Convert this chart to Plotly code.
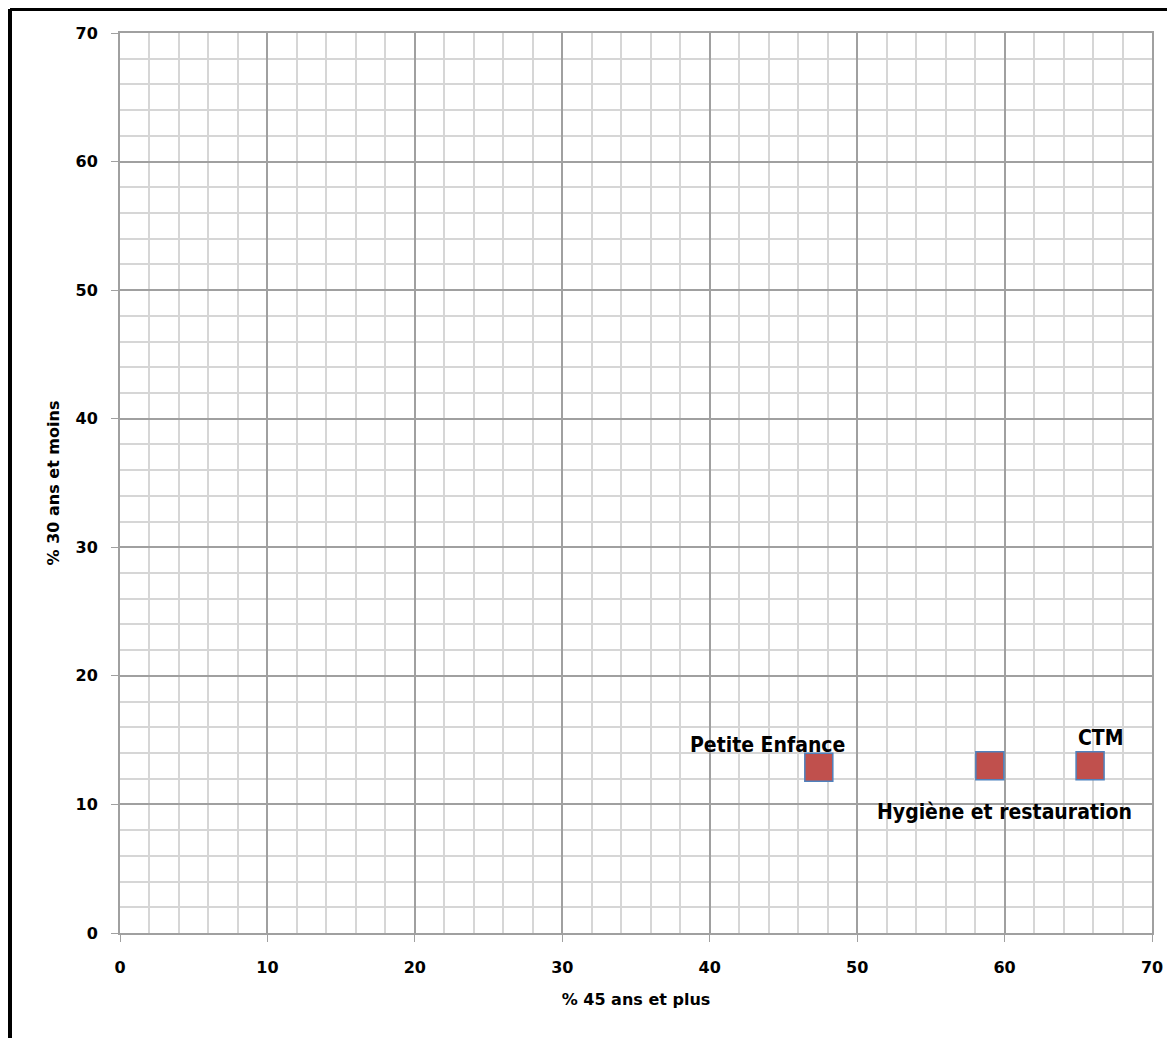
import plotly.graph_objects as go

categories = ["Petite Enfance", "Hygiène et restauration", "CTM"]
pct_45_plus = [47.4, 59.0, 65.8]
pct_30_moins = [12.9, 13.0, 13.0]
label_shift_x = [-51, 15, 11]
label_shift_y = [22, -46, 28]
x_ticks = [0, 10, 20, 30, 40, 50, 60, 70]
y_ticks = [0, 10, 20, 30, 40, 50, 60, 70]

W, H = 1167, 1030
ML, MR, MT, MB = 112, 23, 25, 105

fig = go.Figure()
fig.add_trace(go.Scatter(
    x=pct_45_plus, y=pct_30_moins, mode="markers",
    marker=dict(symbol="square", size=28, color="#C0504D",
                line=dict(color="#4F81BD", width=1.5)),
    hoverinfo="skip", showlegend=False))

label_font = dict(family="DejaVu Sans Condensed, DejaVu Sans, sans-serif",
                  size=21, color="black", weight="bold")
for name, xv, yv, dx, dy in zip(categories, pct_45_plus, pct_30_moins, label_shift_x, label_shift_y):
    fig.add_annotation(x=xv, y=yv, text=name, showarrow=False,
                       xshift=dx, yshift=dy, font=label_font)

axis_common = dict(
    range=[0, 70], tickmode="array",
    showgrid=True, gridcolor="#A0A0A0", gridwidth=1.5,
    minor=dict(dtick=2, showgrid=True, gridcolor="#D6D6D6", gridwidth=1.5,
               ticks=""),
    showline=True, linecolor="#A0A0A0", linewidth=2, mirror=True,
    ticks="outside", ticklen=7, tickcolor="#A0A0A0", tickwidth=1,
    zeroline=False, fixedrange=True,
    tickfont=dict(family="DejaVu Sans", size=16, color="black", weight="bold"),
)
fig.update_xaxes(**axis_common, tickvals=x_ticks, ticktext=[str(v) for v in x_ticks],
                 title=dict(text="% 45 ans et plus", standoff=18,
                            font=dict(family="DejaVu Sans", size=16, color="black", weight="bold")),
                 ticklabelstandoff=12)
fig.update_yaxes(**axis_common, tickvals=y_ticks, ticktext=[str(v) for v in y_ticks],
                 title=dict(text="% 30 ans et moins", standoff=12,
                            font=dict(family="DejaVu Sans", size=16, color="black", weight="bold")),
                 ticklabelstandoff=10)

# outer frame (left and top edges visible in reference)
pw, ph = W - ML - MR, H - MT - MB
xl = (2 - ML) / pw
yt = (H - MB - 1) / ph
fig.add_shape(type="line", xref="paper", yref="paper", x0=xl, x1=xl, y0=yt, y1=-0.2,
              line=dict(color="black", width=4))
fig.add_shape(type="line", xref="paper", yref="paper", x0=xl, x1=1.1, y0=yt, y1=yt,
              line=dict(color="black", width=4))

fig.update_layout(
    width=W, height=H, autosize=False,
    margin=dict(l=ML, r=MR, t=MT, b=MB),
    paper_bgcolor="white", plot_bgcolor="white",
)
fig.write_html("out.html")
